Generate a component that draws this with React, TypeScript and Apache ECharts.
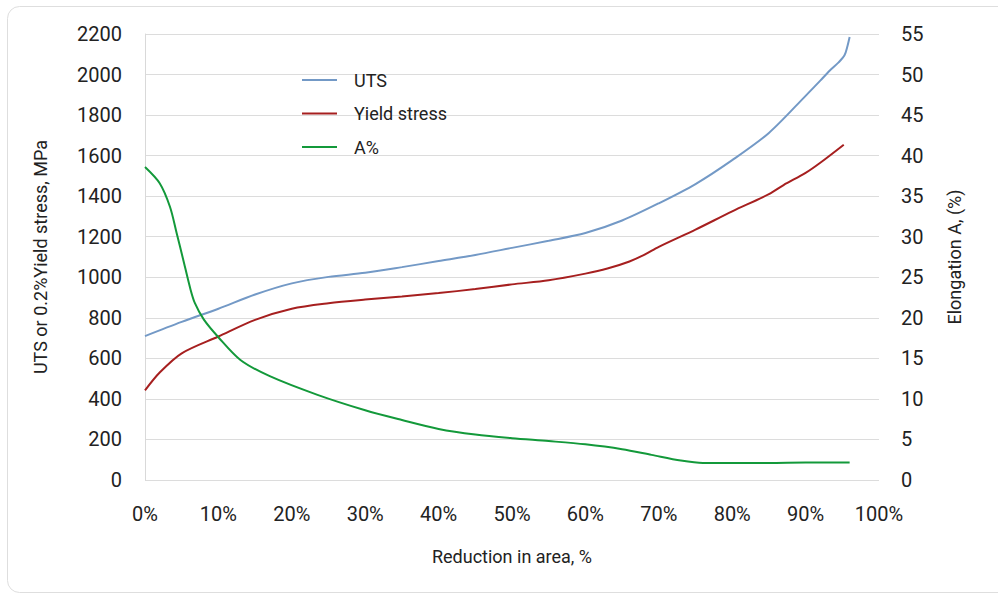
import React, { useEffect, useRef } from "react";
import * as echarts from "echarts";

// Reduction in area (%) and values
const utsX = [0, 5, 10, 15, 20, 25, 30, 35, 40, 45, 50, 55, 60, 65, 70, 75, 80, 85, 90, 92, 93.3, 94.5, 95.3, 95.7, 96];
const utsY = [710, 780, 845, 915, 970, 1002, 1022, 1050, 1080, 1110, 1145, 1180, 1218, 1280, 1365, 1460, 1578, 1712, 1895, 1970, 2020, 2060, 2095, 2140, 2185];

const yieldX = [0, 2, 5, 10, 15, 20, 25, 30, 35, 40, 45, 50, 55, 60, 63, 66, 68, 70, 75, 80, 85, 87, 90, 92, 95.2];
const yieldY = [442, 530, 625, 708, 790, 845, 872, 890, 905, 922, 942, 965, 985, 1018, 1043, 1078, 1110, 1150, 1235, 1325, 1410, 1455, 1515, 1565, 1654];

const elongX = [0, 2, 3.4, 4.3, 5.2, 6.2, 6.8, 8, 10, 13, 17, 23.5, 30, 35, 40, 45, 50, 55, 60, 65, 69, 73, 76, 80, 85, 90, 96];
const elongY = [38.6, 36.6, 33.7, 30.5, 27.2, 23.5, 21.8, 19.8, 17.6, 14.8, 12.8, 10.5, 8.6, 7.4, 6.3, 5.6, 5.15, 4.8, 4.4, 3.8, 3.1, 2.4, 2.1, 2.1, 2.1, 2.15, 2.15];

const seriesNames = ["UTS", "Yield stress", "A%"];
const seriesColors = ["#7399c6", "#a61f1f", "#13993a"];

const xAxisName = "Reduction in area, %";
const leftAxisName = "UTS or 0.2%Yield stress, MPa";
const rightAxisName = "Elongation A, (%)";

const zip = (xs: number[], ys: number[]) => xs.map((x, i) => [x, ys[i]]);

const FONT = "Roboto";

export default function App() {
  const ref = useRef<HTMLDivElement>(null);

  useEffect(() => {
    if (!ref.current) return;
    const chart = echarts.init(ref.current, undefined, { renderer: "svg" });
    const lineSeries = (i: number, data: number[][], yAxisIndex: number) => ({
      name: seriesNames[i],
      type: "line",
      data,
      yAxisIndex,
      symbol: "none",
      smooth: 0.3,
      lineStyle: { width: 2, color: seriesColors[i] },
      itemStyle: { color: seriesColors[i] },
    });
    chart.setOption({
      animation: false,
      textStyle: { fontFamily: FONT },
      graphic: [
        {
          type: "rect",
          shape: { x: 7.5, y: 6.5, width: 1020, height: 586, r: 12 },
          style: { fill: "none", stroke: "#dedede", lineWidth: 1 },
          silent: true,
        },
      ],
      legend: {
        orient: "vertical",
        left: 302,
        top: 71,
        padding: 0,
        icon: "rect",
        itemWidth: 35,
        itemHeight: 2,
        itemGap: 15.5,
        textStyle: { fontFamily: FONT, fontSize: 18, color: "#222", padding: [0, 0, 0, 12] },
        data: seriesNames,
      },
      grid: { left: 145, right: 119, top: 34, bottom: 115 },
      xAxis: {
        type: "value",
        min: 0,
        max: 100,
        interval: 10,
        name: xAxisName,
        nameLocation: "middle",
        nameGap: 67,
        nameTextStyle: { fontFamily: FONT, fontSize: 18, color: "#222" },
        axisLine: { show: false },
        axisTick: { show: false },
        splitLine: { show: false },
        axisLabel: { formatter: "{value}%", fontFamily: FONT, fontSize: 20, color: "#222", margin: 24 },
      },
      yAxis: [
        {
          type: "value",
          min: 0,
          max: 2200,
          interval: 200,
          name: leftAxisName,
          nameLocation: "middle",
          nameGap: 96,
          nameTextStyle: { fontFamily: FONT, fontSize: 18, color: "#222" },
          axisLine: { show: true, lineStyle: { color: "#d9d9d9" } },
          axisTick: { show: false },
          splitLine: { show: true, lineStyle: { color: "#dcdcdc", width: 1 } },
          axisLabel: { formatter: (v: number) => String(v), fontFamily: FONT, fontSize: 20, color: "#222", margin: 23 },
        },
        {
          type: "value",
          min: 0,
          max: 55,
          interval: 5,
          position: "right",
          name: rightAxisName,
          nameLocation: "middle",
          nameGap: 66,
          nameTextStyle: { fontFamily: FONT, fontSize: 18, color: "#222" },
          axisLine: { show: false },
          axisTick: { show: false },
          splitLine: { show: false },
          axisLabel: { formatter: (v: number) => String(v), fontFamily: FONT, fontSize: 20, color: "#222", margin: 22 },
        },
      ],
      series: [
        lineSeries(0, zip(utsX, utsY), 0),
        lineSeries(1, zip(yieldX, yieldY), 0),
        lineSeries(2, zip(elongX, elongY), 1),
      ],
    });
    return () => chart.dispose();
  }, []);

  return (
    <div style={{ position: "fixed", left: 0, top: 0, width: 998, height: 595, background: "#fff" }}>
      <div ref={ref} style={{ width: 998, height: 595 }} />
    </div>
  );
}
